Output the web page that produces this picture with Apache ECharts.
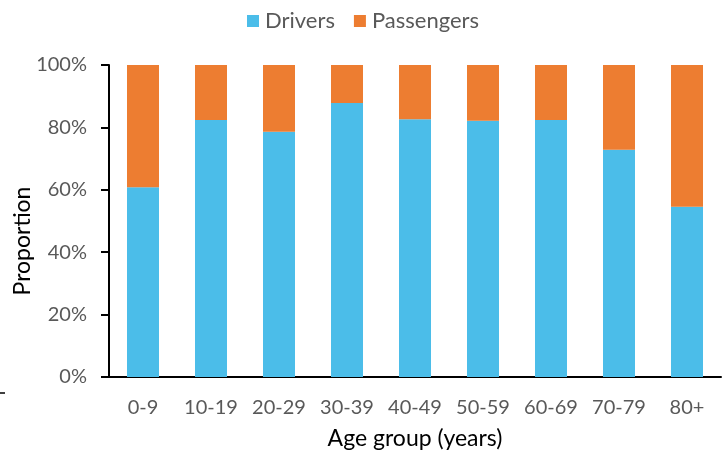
<!DOCTYPE html>
<html>
<head>
<meta charset="utf-8">
<script src="https://cdn.jsdelivr.net/npm/echarts@6/dist/echarts.min.js"></script>
<style>
  html, body { margin: 0; padding: 0; background: #ffffff; }
  #chart { width: 726px; height: 456px; }
</style>
</head>
<body>
<div id="chart"></div>
<script>
// Age groups along the x axis
const ageGroups = ['0-9', '10-19', '20-29', '30-39', '40-49', '50-59', '60-69', '70-79', '80+'];
// Share of people who were drivers, in percent
const drivers = [60.8, 82.4, 78.6, 87.8, 82.6, 82.1, 82.4, 72.8, 54.6];
// Share of people who were passengers, in percent
const passengers = [39.2, 17.6, 21.4, 12.2, 17.4, 17.9, 17.6, 27.2, 45.4];
// Y axis tick values
const yTicks = [0, 20, 40, 60, 80, 100];

const FONT = 'Lato, "Open Sans", sans-serif';
const chart = echarts.init(document.getElementById('chart'), null, { renderer: 'canvas' });

chart.setOption({
  animation: false,
  legend: {
    top: 5,
    left: 'center',
    itemWidth: 12,
    itemHeight: 12,
    itemGap: 19,
    icon: 'rect',
    textStyle: { color: '#595959', fontSize: 22, fontFamily: FONT, padding: [0, 0, 0, 1] },
    data: ['Drivers', 'Passengers']
  },
  grid: {
    left: 109, right: 5, top: 65, bottom: 79,
    containLabel: false,
    outerBoundsMode: 'none'
  },
  xAxis: {
    type: 'category',
    data: ageGroups,
    name: 'Age group (years)',
    nameLocation: 'middle',
    nameGap: 50,
    nameTextStyle: { color: '#000000', fontSize: 23, fontFamily: FONT },
    axisLine: { lineStyle: { color: '#000000', width: 2 } },
    axisTick: { show: false },
    axisLabel: {
      color: '#595959', fontSize: 20, fontFamily: FONT, margin: 21,
      interval: 0, hideOverlap: false
    }
  },
  yAxis: {
    type: 'value',
    min: yTicks[0],
    max: yTicks[yTicks.length - 1],
    interval: 20,
    splitLine: { show: false },
    axisLine: { show: true, lineStyle: { color: '#000000', width: 2 } },
    axisTick: { show: true, length: 8, lineStyle: { color: '#000000', width: 2 } },
    axisLabel: {
      color: '#595959', fontSize: 20, fontFamily: FONT, margin: 22,
      formatter: v => v + '%'
    }
  },
  series: [
    {
      name: 'Drivers',
      type: 'bar',
      stack: 'total',
      data: drivers,
      barWidth: 32,
      itemStyle: { color: '#4BBDE9' }
    },
    {
      name: 'Passengers',
      type: 'bar',
      stack: 'total',
      data: passengers,
      barWidth: 32,
      itemStyle: { color: '#ED7D31' }
    }
  ],
  graphic: [
    {
      // y-axis title, set a little below the plot's middle
      type: 'text',
      x: 23,
      y: 241,
      rotation: Math.PI / 2,
      style: {
        text: 'Proportion',
        fill: '#000000',
        font: '23px ' + FONT,
        align: 'center',
        verticalAlign: 'middle'
      }
    },
    {
      type: 'line',
      shape: { x1: 0, y1: 393, x2: 5, y2: 393 },
      style: { stroke: '#000000', lineWidth: 1.5 }
    }
  ]
});
</script>
</body>
</html>
